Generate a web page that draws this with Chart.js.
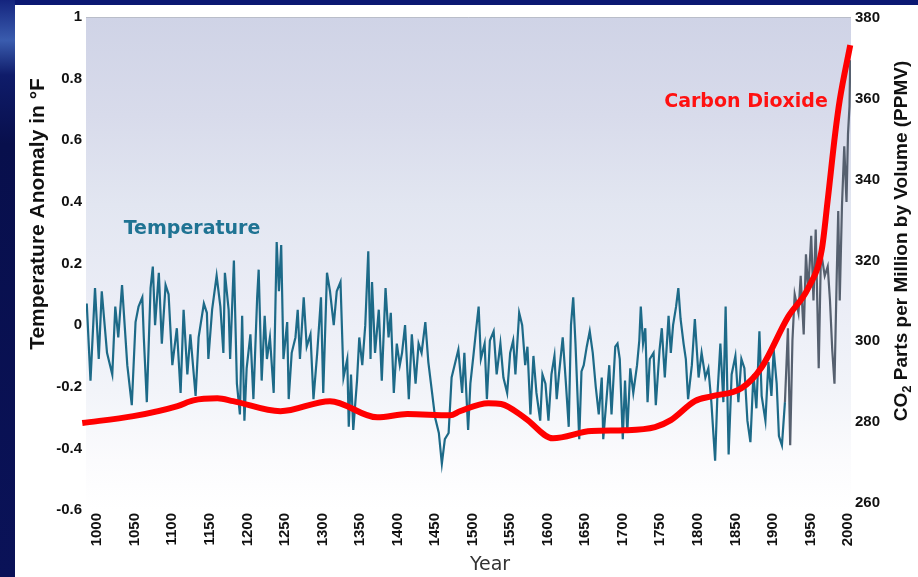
<!DOCTYPE html>
<html>
<head>
<meta charset="utf-8">
<title>Temperature and Carbon Dioxide, 1000-2000</title>
<script src="https://cdn.jsdelivr.net/npm/chart.js@4.4.1/dist/chart.umd.min.js"></script>
<style>
    html, body { margin: 0; padding: 0; background: #0b1466; overflow: hidden; }
    #wrap { width: 918px; height: 577px; }
</style>
</head>
<body>
<div id="wrap"><canvas id="climateChart"></canvas></div>
<script>
// axis ticks
const yearTicks = [1000, 1050, 1100, 1150, 1200, 1250, 1300, 1350, 1400, 1450, 1500,
    1550, 1600, 1650, 1700, 1750, 1800, 1850, 1900, 1950, 2000];
const tempTicks = [-0.6, -0.4, -0.2, 0, 0.2, 0.4, 0.6, 0.8, 1];
const co2Ticks = [260, 280, 300, 320, 340, 360, 380];

// temperature anomaly (deg F)
const tempYears = [
    986, 991, 997, 1002, 1006, 1013, 1020, 1024, 1028, 1033, 1040, 1046, 1051, 1055, 1060, 1062, 1066,
    1071, 1074, 1077, 1082, 1086, 1091, 1095, 1100, 1106, 1111, 1115, 1120, 1124, 1131, 1135, 1142, 1146,
    1148, 1153, 1159, 1164, 1168, 1170, 1175, 1177, 1182, 1186, 1190, 1193, 1196, 1199, 1204, 1208, 1213,
    1215, 1219, 1223, 1226, 1230, 1235, 1239, 1242, 1245, 1248, 1253, 1255, 1259, 1264, 1267, 1270, 1275,
    1279, 1284, 1288, 1293, 1298, 1301, 1306, 1310,
    1315, 1319, 1324, 1328, 1333, 1335, 1338, 1341, 1346, 1349, 1353, 1357, 1361, 1364, 1366, 1370, 1375,
    1379, 1384, 1388, 1391, 1395, 1399, 1403, 1406, 1410, 1415, 1419, 1424, 1428, 1432, 1437, 1441, 1446,
    1450, 1455, 1459, 1463, 1468, 1472, 1477,
    1481, 1486, 1489, 1494, 1497, 1501, 1504, 1508, 1511, 1516, 1519, 1523, 1528, 1532, 1537, 1541, 1546,
    1550, 1554, 1557, 1562, 1566, 1570, 1573, 1577, 1581, 1585, 1590, 1593, 1597, 1601, 1605, 1609, 1612,
    1615, 1620, 1624, 1628, 1631, 1634, 1637, 1642, 1645,
    1648, 1652, 1656, 1660, 1664, 1668, 1672, 1674, 1679, 1682, 1685, 1690, 1693, 1696, 1700, 1703, 1706,
    1710, 1714, 1719, 1722, 1724, 1727, 1730, 1733, 1736, 1741, 1744, 1749, 1752, 1756, 1761, 1764, 1767,
    1771, 1774, 1777, 1781, 1784, 1787, 1792, 1796, 1801, 1805,
    1810, 1814, 1818, 1823, 1826, 1830, 1834, 1837, 1841, 1845, 1850, 1854, 1858, 1862, 1866, 1870, 1874,
    1878, 1882, 1885, 1890, 1894, 1898, 1901, 1905, 1908, 1912, 1916, 1920, 1923, 1926, 1929, 1934, 1937,
    1941, 1944, 1947, 1951, 1954, 1957, 1961, 1964, 1969, 1973, 1976, 1979, 1982, 1985, 1987, 1989, 1992,
    1995, 1998, 2000, 2002, 2003
];
const tempValues = [
    0.07, -0.18, 0.12, -0.11, 0.11, -0.09, -0.16, 0.06, -0.04, 0.13, -0.13, -0.26, 0.01, 0.06, 0.09, -0.04, -0.25,
    0.12, 0.19, 0.00, 0.17, -0.06, 0.13, 0.10, -0.13, -0.01, -0.22, 0.05, -0.16, -0.03, -0.23, -0.04, 0.07, 0.04,
    -0.11, 0.05, 0.16, 0.06, -0.09, 0.17, 0.05, -0.11, 0.21, -0.19, -0.29, 0.03, -0.31, -0.14, -0.03, -0.24, 0.09,
    0.18, -0.18, 0.03, -0.11, -0.04, -0.22, 0.27, 0.11, 0.26, -0.11, 0.01, -0.24, -0.09, -0.04, 0.05, -0.11, 0.09,
    -0.07, -0.03, -0.24, -0.09, 0.09, -0.22, 0.17, 0.11,
    0.00, 0.11, 0.14, -0.17, -0.11, -0.33, -0.16, -0.34, -0.18, -0.04, -0.13, 0.00, 0.24, -0.11, 0.14, -0.09, 0.05,
    -0.18, 0.12, -0.04, 0.04, -0.22, -0.06, -0.13, -0.09, 0.00, -0.24, -0.03, -0.19, -0.06, -0.09, 0.01, -0.12, -0.22,
    -0.30, -0.35, -0.45, -0.37, -0.35, -0.17, -0.12,
    -0.08, -0.22, -0.09, -0.34, -0.19, -0.10, -0.03, 0.06, -0.11, -0.06, -0.24, -0.05, -0.02, -0.16, -0.06, -0.17, -0.22,
    -0.09, -0.05, -0.16, 0.04, 0.00, -0.13, -0.07, -0.29, -0.10, -0.22, -0.31, -0.16, -0.19, -0.31, -0.16, -0.10, -0.24,
    -0.16, -0.04, -0.18, -0.33, 0.00, 0.09, -0.06, -0.37, -0.15,
    -0.13, -0.07, -0.02, -0.09, -0.20, -0.29, -0.17, -0.37, -0.22, -0.13, -0.29, -0.07, -0.06, -0.11, -0.37, -0.18, -0.35,
    -0.14, -0.22, -0.13, -0.05, 0.06, -0.06, -0.01, -0.25, -0.11, -0.09, -0.26, -0.08, -0.01, -0.17, 0.03, -0.09, 0.00,
    0.06, 0.12, 0.02, -0.06, -0.11, -0.24, -0.13, 0.02, -0.17, -0.09,
    -0.17, -0.14, -0.25, -0.44, -0.23, -0.06, -0.25, 0.06, -0.42, -0.16, -0.10, -0.25, -0.11, -0.14, -0.31, -0.38, -0.16,
    -0.27, -0.02, -0.23, -0.31, -0.12, -0.23, -0.08, -0.19, -0.36, -0.39, -0.25, -0.01, -0.39, -0.05, 0.10, 0.04, 0.16,
    -0.03, 0.23, 0.11, 0.29, 0.08, 0.31, -0.14, 0.24, 0.16, 0.19, 0.08, -0.08, -0.19, 0.16, 0.37, 0.08, 0.39,
    0.58, 0.40, 0.62, 0.71, 0.86
];

// carbon dioxide (ppmv)
const co2Years = [980, 1048, 1107, 1128, 1160, 1181, 1244, 1310, 1373, 1413, 1470, 1483, 1521, 1538, 1570,
    1607, 1658, 1703, 1743, 1764, 1796, 1818, 1858, 1885, 1920, 1947, 1965, 1973, 1983, 1989, 2003];
const co2Values = [279.8, 281.5, 284.0, 285.4, 285.9, 285.2, 282.7, 285.2, 281.2, 282.0, 281.7, 282.7, 284.7, 284.5, 281.0,
    276.0, 277.8, 278.0, 278.8, 280.5, 285.2, 286.4, 288.4, 293.6, 306.0, 313.2, 322.6, 335.0, 351.5, 359.7, 373.3];

const tickFont = { family: '"Liberation Sans Narrow", "Liberation Sans", Arial, sans-serif', size: 15, weight: 'bold' };

function toPoints(xs, ys) {
    return xs.map(function (x, i) { return { x: x, y: ys[i] }; });
}

function setTicks(values) {
    return function (axis) {
        axis.ticks = values.map(function (v) { return { value: v }; });
    };
}

const backdropPlugin = {
    id: 'backdrop',
    beforeDraw: function (chart) {
        const ctx = chart.ctx;
        const area = chart.chartArea;
        ctx.save();
        // navy slide frame
        let g = ctx.createLinearGradient(0, 0, 0, chart.height);
        g.addColorStop(0, '#14247e');
        g.addColorStop(0.07, '#3a5cae');
        g.addColorStop(0.13, '#0f1c6a');
        g.addColorStop(0.25, '#080f4c');
        g.addColorStop(1, '#0a1258');
        ctx.fillStyle = g;
        ctx.fillRect(0, 0, chart.width, chart.height);
        ctx.fillStyle = '#0b1872';
        ctx.fillRect(15, 0, chart.width - 15, 5);
        // white panel
        ctx.fillStyle = '#ffffff';
        ctx.fillRect(15, 5, chart.width - 15, chart.height - 5);
        // plot wash
        g = ctx.createLinearGradient(0, area.top, 0, area.bottom);
        g.addColorStop(0, '#cfd3e6');
        g.addColorStop(0.2, '#d8dbeb');
        g.addColorStop(0.38, '#e2e6f1');
        g.addColorStop(0.58, '#ebedf6');
        g.addColorStop(0.76, '#f2f4f9');
        g.addColorStop(0.9, '#fbfbfd');
        g.addColorStop(1, '#ffffff');
        ctx.fillStyle = g;
        ctx.fillRect(area.left, area.top, area.right - area.left, area.bottom - area.top);
        ctx.strokeStyle = '#b9bdc9';
        ctx.lineWidth = 1;
        ctx.beginPath();
        ctx.moveTo(area.left, area.top + 0.5);
        ctx.lineTo(area.right, area.top + 0.5);
        ctx.stroke();
        ctx.restore();
    }
};

const labelsPlugin = {
    id: 'labels',
    afterDraw: function (chart) {
        const ctx = chart.ctx;
        ctx.save();

        // series labels
        ctx.textAlign = 'center';
        ctx.textBaseline = 'alphabetic';
        ctx.font = 'bold 19px "DejaVu Sans", Verdana, sans-serif';
        ctx.fillStyle = '#1f7393';
        ctx.fillText('Temperature', 192, 234);
        ctx.fillStyle = '#ff1111';
        ctx.fillText('Carbon Dioxide', 746, 107);

        // x title
        ctx.font = '19px "DejaVu Sans", Verdana, sans-serif';
        ctx.fillStyle = '#333333';
        ctx.fillText('Year', 490, 570);

        // left title
        ctx.fillStyle = '#111111';
        ctx.font = 'bold 21px "Liberation Sans", Arial, sans-serif';
        ctx.save();
        ctx.translate(44, 214);
        ctx.rotate(-Math.PI / 2);
        ctx.fillText('Temperature Anomaly in \u00B0F', 0, 0);
        ctx.restore();

        // right title with subscript
        const big = 'bold 19px "Liberation Sans", Arial, sans-serif';
        const small = 'bold 13px "Liberation Sans", Arial, sans-serif';
        const rest = ' Parts per Million by Volume (PPMV)';
        ctx.font = big;
        const w1 = ctx.measureText('CO').width;
        const w3 = ctx.measureText(rest).width;
        ctx.font = small;
        const w2 = ctx.measureText('2').width;
        const total = w1 + w2 + w3;
        ctx.save();
        ctx.translate(907, 241);
        ctx.rotate(-Math.PI / 2);
        ctx.textAlign = 'left';
        ctx.font = big;
        ctx.fillText('CO', -total / 2, 0);
        ctx.font = small;
        ctx.fillText('2', -total / 2 + w1, 4);
        ctx.font = big;
        ctx.fillText(rest, -total / 2 + w1 + w2, 0);
        ctx.restore();

        ctx.restore();
    }
};

document.addEventListener("DOMContentLoaded", function () {
    const ctx = document.getElementById('climateChart').getContext('2d');

    const data = {
        datasets: [
            {
                label: 'Carbon Dioxide',
                data: toPoints(co2Years, co2Values),
                yAxisID: 'y2',
                borderColor: '#ff0000',
                borderWidth: 6,
                pointRadius: 0,
                cubicInterpolationMode: 'monotone',
                clip: false,
                order: 1
            },
            {
                label: 'Temperature',
                data: toPoints(tempYears, tempValues),
                yAxisID: 'y',
                borderColor: '#1d6a88',
                borderWidth: 2.2,
                pointRadius: 0,
                tension: 0,
                order: 2,
                segment: {
                    borderColor: function (c) {
                        return c.p0.parsed.x >= 1915 ? '#56606f' : '#1d6a88';
                    }
                }
            }
        ]
    };

    const config = {
        type: 'line',
        data: data,
        plugins: [backdropPlugin, labelsPlugin],
        options: {
            responsive: true,
            maintainAspectRatio: false,
            animation: false,
            layout: {
                padding: { top: 17, left: 0, right: 0, bottom: 0 }
            },
            plugins: {
                legend: { display: false },
                tooltip: { enabled: false }
            },
            scales: {
                x: {
                    type: 'linear',
                    min: 985,
                    max: 2004,
                    afterBuildTicks: setTicks(yearTicks),
                    afterFit: function (scale) { scale.height = 67; },
                    grid: { display: false, drawTicks: false },
                    border: { display: false },
                    ticks: {
                        autoSkip: false,
                        minRotation: 90,
                        maxRotation: 90,
                        padding: 3,
                        color: '#111111',
                        font: tickFont,
                        callback: function (v) { return String(v); }
                    }
                },
                y: {
                    position: 'left',
                    min: -0.6,
                    max: 1,
                    afterBuildTicks: setTicks(tempTicks),
                    afterFit: function (scale) { scale.width = 86; },
                    grid: { display: false, drawTicks: false },
                    border: { display: false },
                    ticks: {
                        padding: 4,
                        color: '#111111',
                        font: tickFont,
                        callback: function (v) { return String(Math.round(v * 10) / 10); }
                    }
                },
                y2: {
                    position: 'right',
                    min: 258.27,
                    max: 380.25,
                    afterBuildTicks: setTicks(co2Ticks),
                    afterFit: function (scale) { scale.width = 67; },
                    grid: { display: false, drawTicks: false },
                    border: { display: false },
                    ticks: {
                        padding: 4,
                        color: '#111111',
                        font: tickFont,
                        callback: function (v) { return String(v); }
                    }
                }
            }
        }
    };

    new Chart(ctx, config);
});
</script>
</body>
</html>
